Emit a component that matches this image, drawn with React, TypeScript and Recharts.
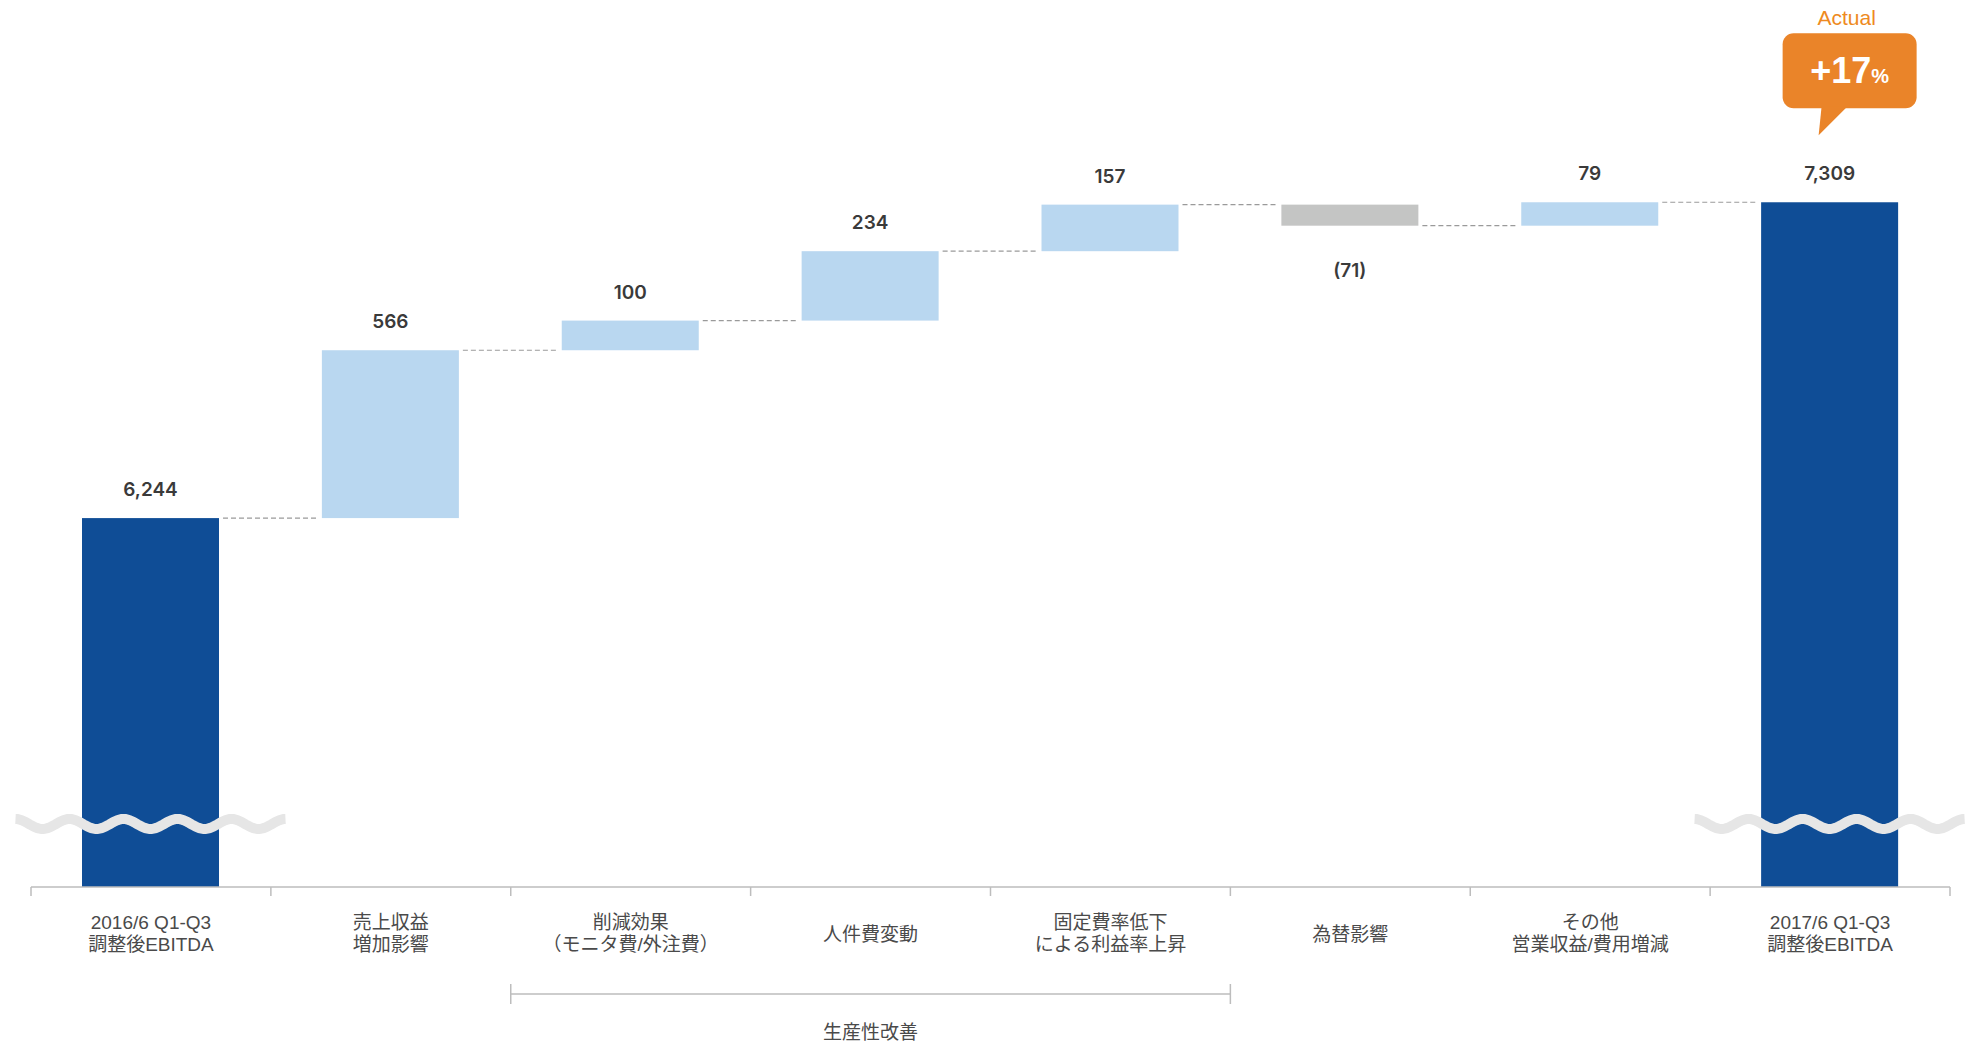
import { BarChart, Bar, XAxis, YAxis, LabelList } from "recharts"

// bridge from FY2016/6 Q1-Q3 to FY2017/6 Q1-Q3 adjusted EBITDA
const categories = [
  "2016/6 Q1-Q3\n調整後EBITDA",
  "売上収益\n増加影響",
  "削減効果\n（モニタ費/外注費）",
  "人件費変動",
  "固定費率低下\nによる利益率上昇",
  "為替影響",
  "その他\n営業収益/費用増減",
  "2017/6 Q1-Q3\n調整後EBITDA",
]
const changes = [6244, 566, 100, 234, 157, -71, 79, 7309]
const isTotal = [true, false, false, false, false, false, false, true]
const valueLabels = ["6,244", "566", "100", "234", "157", "(71)", "79", "7,309"]

const groupLabel = "生産性改善"
const groupFrom = 2
const groupTo = 4

const yDomain = [5000, 7900]

const calloutTitle = "Actual"
const calloutValue = "+17"
const calloutUnit = "%"

const CHART_W = 1973
const CHART_H = 1045
const MARGIN = { top: 27, right: 23, bottom: 0, left: 31 }
const X_AXIS_H = 158
const PLOT_W = CHART_W - MARGIN.left - MARGIN.right
const PLOT_BOTTOM = CHART_H - MARGIN.bottom - X_AXIS_H
const BAND = PLOT_W / categories.length
const BAR_W = 137

const DARK = "#0f4d96"
const UP = "#b9d7f0"
const DOWN = "#c4c5c4"
const ORANGE = "#ea8429"
const LATIN = '"Liberation Sans", "Noto Sans CJK JP", sans-serif'

let running = 0
const data = categories.map((name, i) => {
  if (isTotal[i]) {
    running = changes[i]
    return { name, value: changes[i], kind: "total" }
  }
  const next = running + changes[i]
  const row = {
    name,
    value: [Math.min(running, next), Math.max(running, next)],
    kind: changes[i] < 0 ? "down" : "up",
  }
  running = next
  return row
})

function wavePath(cx: number, cy: number) {
  const half = 135
  const period = 54
  const amp = 5
  let d = ""
  for (let t = 0; t <= half * 2; t += 2) {
    const px = cx - half + t
    const py = cy - amp * Math.cos((2 * Math.PI * t) / period)
    d += (t === 0 ? "M" : "L") + px.toFixed(1) + "," + py.toFixed(1)
  }
  return d
}

const WaterfallBar = (props: any) => {
  const { x, y, width, height, index } = props
  const row = data[index]
  const fill = row.kind === "total" ? DARK : row.kind === "down" ? DOWN : UP
  const gap = BAND - width
  const level = row.kind === "down" ? y + height : y
  return (
    <g>
      <rect x={x} y={y} width={width} height={height} fill={fill} />
      {index < data.length - 1 && (
        <line
          x1={x + width + 4}
          x2={x + width + gap - 4}
          y1={level}
          y2={level}
          stroke="#9a9a9a"
          strokeWidth={1.2}
          strokeDasharray="5 3"
        />
      )}
      {row.kind === "total" && (
        <path d={wavePath(x + width / 2, PLOT_BOTTOM - 63)} fill="none" stroke="#e6e6e6" strokeWidth={10} />
      )}
    </g>
  )
}

const ValueLabel = (props: any) => {
  const { x, y, width, height, index } = props
  const row = data[index]
  const cx = x + width / 2
  const ty = row.kind === "down" ? y + height + 51 : y - 22
  return (
    <g>
      <text x={cx} y={ty} textAnchor="middle" fontFamily="Inter, sans-serif" fontWeight={600} fontSize={19} fill="#3a3a3a">
        {valueLabels[index]}
      </text>
      {index === data.length - 1 && (
        <g>
          <rect x={cx - 47} y={y - 169} width={134} height={75} rx={11} fill={ORANGE} />
          <polygon points={`${cx - 8},${y - 96} ${cx + 18},${y - 96} ${cx - 11},${y - 67}`} fill={ORANGE} />
          <text x={cx + 17} y={y - 177} textAnchor="middle" fontFamily={LATIN} fontSize={21} fill="#ee8a21">
            {calloutTitle}
          </text>
          <text x={cx + 20} y={y - 119} textAnchor="middle" fontFamily={LATIN} fontWeight="bold" fill="#ffffff">
            <tspan fontSize={36}>{calloutValue}</tspan>
            <tspan fontSize={20}>{calloutUnit}</tspan>
          </text>
        </g>
      )}
    </g>
  )
}

const AxisTick = (props: any) => {
  const { x, index } = props
  const lines = categories[index].split("\n")
  const base = PLOT_BOTTOM
  const left = x - BAND / 2
  const right = x + BAND / 2
  const centers = lines.length === 2 ? [base + 35, base + 56.5] : [base + 46.5]
  const mid = Math.floor((groupFrom + groupTo) / 2)
  return (
    <g>
      <line x1={left} x2={left} y1={base} y2={base + 9} stroke="#bdbdbd" strokeWidth={1.5} />
      {index === categories.length - 1 && (
        <line x1={right} x2={right} y1={base} y2={base + 9} stroke="#bdbdbd" strokeWidth={1.5} />
      )}
      {lines.map((t: string, k: number) => (
        <text key={k} x={x} y={centers[k] + 7} textAnchor="middle" fontFamily={LATIN} fontSize={19} fill="#4a4a4a">
          {t}
        </text>
      ))}
      {index === mid && (
        <g stroke="#bdbdbd" strokeWidth={1.5}>
          <line x1={x - BAND * 1.5} x2={x + BAND * 1.5} y1={base + 107} y2={base + 107} />
          <line x1={x - BAND * 1.5} x2={x - BAND * 1.5} y1={base + 97} y2={base + 117} />
          <line x1={x + BAND * 1.5} x2={x + BAND * 1.5} y1={base + 97} y2={base + 117} />
          <text x={x} y={base + 151.5} textAnchor="middle" stroke="none" fontFamily={LATIN} fontSize={19} fill="#4a4a4a">
            {groupLabel}
          </text>
        </g>
      )}
    </g>
  )
}

export default function App() {
  return (
    <div style={{ width: CHART_W, height: CHART_H, margin: "-8px 0 0 -8px", background: "#ffffff" }}>
      <BarChart width={CHART_W} height={CHART_H} data={data} margin={MARGIN}>
        <XAxis
          dataKey="name"
          interval={0}
          height={X_AXIS_H}
          tickLine={false}
          axisLine={{ stroke: "#bdbdbd", strokeWidth: 1.5 }}
          tick={AxisTick}
        />
        <YAxis hide domain={yDomain} type="number" />
        <Bar dataKey="value" barSize={BAR_W} shape={WaterfallBar} isAnimationActive={false}>
          <LabelList dataKey="value" content={ValueLabel} />
        </Bar>
      </BarChart>
    </div>
  )
}
